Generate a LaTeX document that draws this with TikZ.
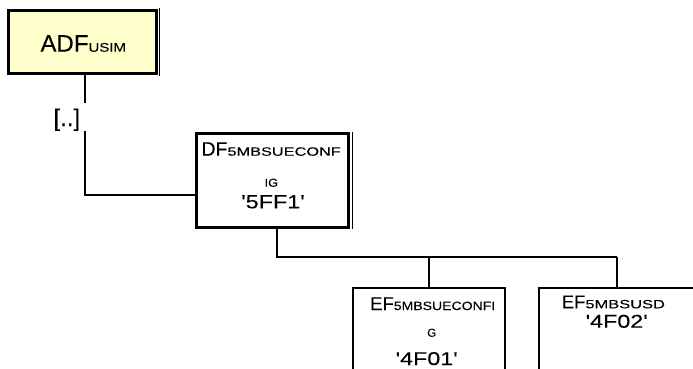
\documentclass[tikz,border=0pt]{standalone}
\usepackage{fontspec}
\setmainfont{Liberation Sans}[FakeBold=0.12]
\usetikzlibrary{calc}
\definecolor{adfyellow}{RGB}{255,255,204}
\newcommand{\sx}[3]{\scalebox{#2}[1]{\fontsize{#1pt}{#1pt}\selectfont #3}}
\begin{document}
\begin{tikzpicture}[x=1pt,y=-1pt,
  box/.style={draw, rectangle, inner sep=0pt, outer sep=0pt},
  thickbox/.style={box, line width=2.8pt},
  thinbox/.style={box, fill=white, line width=2.2pt},
  conn/.style={line width=2pt},
  txt/.style={inner sep=0pt, outer sep=0pt, anchor=base west, text=black},
  ctxt/.style={inner sep=0pt, outer sep=0pt, anchor=base, text=black}]
\useasboundingbox (0,0) rectangle (693,369);
\clip (0,0) rectangle (693,369);

% boxes
\node[thickbox, fill=adfyellow, minimum width=148.2pt, minimum height=63.2pt] (adf) at (82.5,42) {};
\node[thickbox, fill=white, minimum width=152pt, minimum height=94pt] (df) at (272.5,180.5) {};
\node[thinbox, minimum width=152pt, minimum height=112pt] (ef1) at (429,344) {};
\node[thinbox, minimum width=156pt, minimum height=112pt] (ef2) at (617,344) {};

% extra thin right edges of the double-bordered boxes
\draw[line width=1pt] ($(adf.north east)+(2.8,-2.4)$) -- ($(adf.south east)+(2.8,1.9)$);
\draw[line width=1pt] ($(df.north east)+(3.5,-1.8)$) -- ($(df.south east)+(3.5,1)$);

% texts
\node[txt] (adft) at (40.5,51.7) {\fontsize{24pt}{24pt}\selectfont ADF\sx{12.5}{1.2}{USIM}};
\node[txt] (dft1) at (201.5,155.7) {\fontsize{19.5pt}{19.5pt}\selectfont DF\sx{12}{1.36}{5MBSUECONF}};
\node[ctxt] (dft2) at (271.3,186.7) {\sx{11.5}{1.1}{IG}};
\node[ctxt] (dft3) at (273,208.3) {\sx{19}{1.23}{\textquotesingle 5FF1\textquotesingle}};

\node[txt] (ef1t1) at (370.2,310) {\fontsize{18.5pt}{18.5pt}\selectfont EF\sx{12}{1.17}{5MBSUECONFI}};
\node[ctxt] (ef1t2) at (431.7,336.7) {\sx{11.5}{1.0}{G}};
\node[ctxt] (ef1t3) at (426.7,365) {\sx{18.5}{1.26}{\textquotesingle 4F01\textquotesingle}};

\node[txt] (ef2t1) at (561.8,308.3) {\fontsize{18.5pt}{18.5pt}\selectfont EF\sx{12}{1.37}{5MBSUSD}};
\node[ctxt] (ef2t2) at (616.7,327.7) {\sx{18.5}{1.26}{\textquotesingle 4F02\textquotesingle}};

% label on the link
\node[txt] (lbl) at (53.5,126) {\fontsize{24pt}{24pt}\selectfont [..]};

% connectors
\coordinate (c1) at (85,103);
\coordinate (c2) at (85,131);
\coordinate (c3) at (85,195);
\draw[conn] (c1 |- adf.south) -- (c1);
\draw[conn] (c2) -- (c3) -- (c3 -| df.west);

\coordinate (d1) at (277,257);
\draw[conn] (d1 |- df.south) -- (d1) -- (d1 -| ef2.north);
\draw[conn] (d1 -| ef1.north) -- (ef1.north);
\draw[conn] (d1 -| ef2.north) -- (ef2.north);
\end{tikzpicture}
\end{document}
